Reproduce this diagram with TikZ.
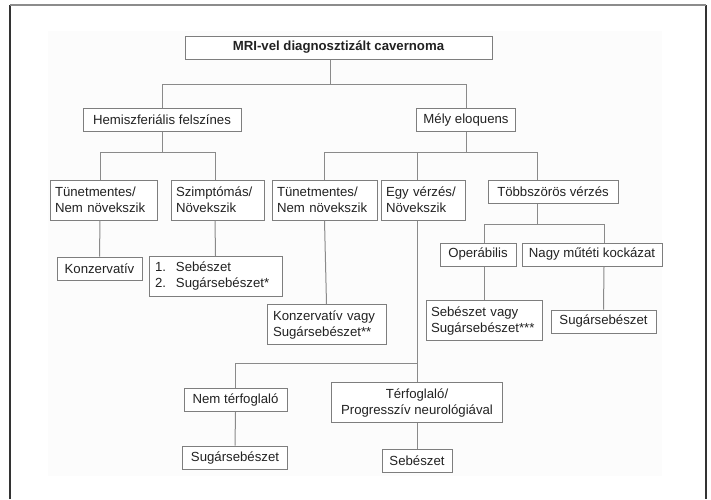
\documentclass[tikz,border=0pt]{standalone}
\usepackage{fontspec}
\setmainfont{Liberation Sans}
\usetikzlibrary{positioning,calc}
\definecolor{boxline}{HTML}{7E7E7E}
\definecolor{linkline}{HTML}{8A8A8A}
\definecolor{inktext}{HTML}{222222}
\definecolor{frameside}{HTML}{333333}
\definecolor{frametop}{HTML}{8C8C8C}
\definecolor{panel}{HTML}{FCFCFC}
\begin{document}
\begin{tikzpicture}[x=1pt, y=-1pt,
  box/.style={draw=boxline, line width=1pt, fill=white, text=inktext, font=\fontsize{13.2}{16}\selectfont, inner sep=0pt, minimum height=23pt, align=center},
  twoline/.style={box, minimum height=40pt, inner xsep=5pt, align=left},
  link/.style={draw=linkline, line width=1pt}]
\useasboundingbox (0,0) rectangle (711,499);
\fill[white] (0,0) rectangle (711,499);
\fill[panel] (48,31) rectangle (662,476);
\draw[frameside, line width=1.4pt] (10,499) -- (10,5);
\draw[frameside, line width=1.4pt] (706,5) -- (706,499);
\draw[frametop, line width=1.4pt] (10,5) -- (706,5);

\node[box, minimum width=307pt, font=\fontsize{13.2}{16}\selectfont\bfseries] (root) at (338.5,47.5) {MRI-vel diagnosztizált cavernoma};
\node[box, minimum width=158pt] (hemi) at (162,120) {Hemiszferiális felszínes};
\node[box, minimum width=99pt] (mely) at (466,120) {Mély eloquens};
\node[twoline, text width=97pt] (tun1) at (103.5,200) {Tünetmentes/\\Nem növekszik};
\node[twoline, text width=83pt] (szimp) at (217.5,200) {Szimptómás/\\Növekszik};
\node[twoline, text width=95pt] (tun2) at (324.5,200) {Tünetmentes/\\Nem növekszik};
\node[twoline, text width=74pt] (egy) at (423,200) {Egy vérzés/\\Növekszik};
\node[box, minimum width=130pt] (tobb) at (553,191.5) {Többszörös vérzés};
\node[box, minimum width=76pt] (oper) at (478,254.5) {Operábilis};
\node[box, minimum width=140pt] (nagy) at (592,254.5) {Nagy műtéti kockázat};
\node[box, minimum width=85pt] (konz) at (99.5,268.5) {Konzervatív};
\node[twoline, text width=121pt, inner xsep=6pt] (seblist) at (215.5,276.5) {\makebox[21pt][l]{1.}Sebészet\\\makebox[21pt][l]{2.}Sugársebészet*};
\node[twoline, text width=107pt, inner xsep=6pt] (konzvagy) at (326.5,324.5) {Konzervatív vagy\\Sugársebészet**};
\node[twoline, text width=106pt] (sebvagy) at (484,320.5) {Sebészet vagy\\Sugársebészet***};
\node[box, minimum width=105pt] (sug1) at (603.5,321.5) {Sugársebészet};
\node[box, minimum width=103pt] (nemter) at (235.5,400) {Nem térfoglaló};
\node[box, minimum width=171pt, minimum height=40pt] (terf) at (417,402.5) {Térfoglaló/\\Progresszív neurológiával};
\node[box, minimum width=105pt] (sug2) at (235,457.5) {Sugársebészet};
\node[box, minimum width=70pt] (seb) at (417,460.5) {Sebészet};

\draw[link] ([xshift=-8.5pt]root.south) -- ++(0,25) coordinate (j0);
\draw[link] (hemi.north) |- (j0) -| (mely.north);
\draw[link] (hemi.south) -- ++(0,20.5) coordinate (j1);
\draw[link] ([xshift=-3.5pt]tun1.north) |- (j1) -| ([xshift=-2.5pt]szimp.north);
\draw[link] (mely.south) -- ++(0,20.5) coordinate (j2);
\draw[link] (tun2.north) |- (j2) -| ([xshift=-16pt]tobb.north);
\draw[link] ([xshift=-6pt]egy.north) |- (j2);
\draw[link] ([xshift=-16pt]tobb.south) -- ++(0,21) coordinate (j3);
\draw[link] ([xshift=6pt]oper.north) |- (j3) -| ([xshift=12pt]nagy.north);
\draw[link] ([xshift=-3.5pt]tun1.south) -- (konz.north);
\draw[link] ([xshift=-2.5pt]szimp.south) -- (seblist.north);
\draw[link] (tun2.south) -- (konzvagy.north);
\draw[link] ([xshift=6pt]oper.south) -- (sebvagy.north);
\draw[link] ([xshift=12pt]nagy.south) -- (sug1.north);
\draw[link] ([xshift=-6pt]egy.south) -- (terf.north);
\path ([xshift=-6pt]egy.south) ++(0,143) coordinate (j4);
\draw[link] (nemter.north) |- (j4);
\draw[link] (nemter.south) -- (sug2.north);
\draw[link] (terf.south) -- (seb.north);
\end{tikzpicture}
\end{document}
